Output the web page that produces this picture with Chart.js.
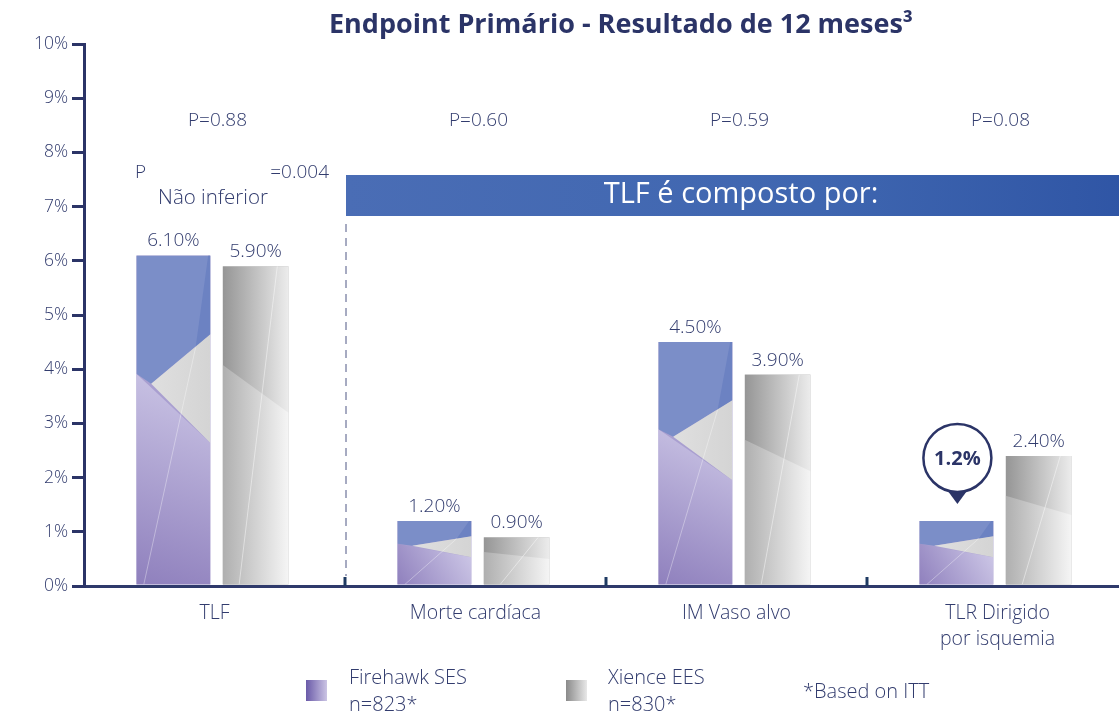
<!DOCTYPE html>
<html>
<head>
<meta charset="utf-8">
<script src="https://cdn.jsdelivr.net/npm/chart.js@4.4.1/dist/chart.umd.min.js"></script>
<style>
  html, body { margin: 0; padding: 0; background: #fff; overflow: hidden; }
  #wrap { position: relative; width: 1130px; height: 717px; }
</style>
</head>
<body>
<div id="wrap"><canvas id="chartCanvas"></canvas></div>
<script>
// --- data ---
const categories = ["TLF", "Morte cardíaca", "IM Vaso alvo", ["TLR Dirigido", "por isquemia"]];
const firehawk = [6.1, 1.2, 4.5, 1.2];
const xience = [5.9, 0.9, 3.9, 2.4];
const pValues = ["P=0.88", "P=0.60", "P=0.59", "P=0.08"];
const yMin = 0, yMax = 10, yStep = 1;
const calloutIndex = 3; // Firehawk TLR gets the bubble instead of a plain label

const NAVY = "#2b3467";
const TEXT = "#323c6e";
const FONT = "'Open Sans', 'Noto Sans', sans-serif";
const LIGHT = `300`;

// --- small drawing helpers ---
function poly(ctx, l, t, w, h, pts, fill) {
  ctx.beginPath();
  pts.forEach(([fx, fy], i) => {
    const px = l + fx * w, py = t + fy * h;
    i ? ctx.lineTo(px, py) : ctx.moveTo(px, py);
  });
  ctx.closePath();
  ctx.fillStyle = fill;
  ctx.fill();
}

function seam(ctx, l, t, w, h, a, b, alpha) {
  ctx.beginPath();
  ctx.moveTo(l + a[0] * w, t + a[1] * h);
  ctx.lineTo(l + b[0] * w, t + b[1] * h);
  ctx.strokeStyle = `rgba(255,255,255,${alpha})`;
  ctx.lineWidth = 1;
  ctx.stroke();
}

function facetFirehawk(ctx, l, t, w, h) {
  const lilac = ctx.createLinearGradient(l, t + h, l + w, t + 0.3 * h);
  lilac.addColorStop(0, "#8f80bd");
  lilac.addColorStop(1, "#d2cdea");
  poly(ctx, l, t, w, h, [[0, 0.36], [1, 0.57], [1, 1], [0, 1]], lilac);
  poly(ctx, l, t, w, h, [[0, 0], [1, 0], [1, 0.24], [0.2, 0.39], [0, 0.36]], "#7b8ec8");
  poly(ctx, l, t, w, h, [[0.97, 0], [1, 0], [1, 0.24], [0.8, 0.28]], "#6c82c2");
  const grey = ctx.createLinearGradient(l, t, l + w, t);
  grey.addColorStop(0, "#e2e2e2");
  grey.addColorStop(1, "#d4d4d4");
  poly(ctx, l, t, w, h, [[0.2, 0.39], [1, 0.24], [1, 0.57]], grey);
  seam(ctx, l, t, w, h, [0.1, 1], [0.8, 0.28], 0.35);
}

function facetXience(ctx, l, t, w, h) {
  const top = ctx.createLinearGradient(l, t, l + w, t);
  top.addColorStop(0, "#959595");
  top.addColorStop(1, "#ececec");
  poly(ctx, l, t, w, h, [[0, 0], [1, 0], [1, 1], [0, 1]], top);
  const low = ctx.createLinearGradient(l, t, l + w, t);
  low.addColorStop(0, "#afafaf");
  low.addColorStop(1, "#f5f5f5");
  poly(ctx, l, t, w, h, [[0, 0.31], [1, 0.46], [1, 1], [0, 1]], low);
  seam(ctx, l, t, w, h, [0.25, 1], [0.83, 0], 0.45);
}

// paints the faceted look inside each bar the library laid out
const facetPlugin = {
  id: "facets",
  afterDatasetsDraw(chart) {
    const ctx = chart.ctx;
    chart.data.datasets.forEach((ds, di) => {
      chart.getDatasetMeta(di).data.forEach(bar => {
        const l = bar.x - bar.width / 2, t = bar.y, w = bar.width, h = bar.base - bar.y;
        ctx.save();
        ctx.beginPath();
        ctx.rect(l, t, w, h);
        ctx.clip();
        (di === 0 ? facetFirehawk : facetXience)(ctx, l, t, w, h);
        ctx.restore();
      });
    });
  }
};

const annotationPlugin = {
  id: "annotations",
  afterDraw(chart) {
    const ctx = chart.ctx;
    const x = chart.scales.x, area = chart.chartArea;
    const step = x.getPixelForValue(1) - x.getPixelForValue(0);
    ctx.save();

    // title
    ctx.fillStyle = NAVY;
    ctx.font = `bold 27px ${FONT}`;
    ctx.textAlign = "center";
    ctx.textBaseline = "middle";
    ctx.fillText("Endpoint Primário - Resultado de 12 meses³", 621, 25);

    // short upward ticks between categories
    ctx.strokeStyle = "#1f3a62";
    ctx.lineWidth = 3;
    for (let i = 0; i < categories.length - 1; i++) {
      const bx = x.getPixelForValue(i) + step / 2;
      ctx.beginPath();
      ctx.moveTo(bx, area.bottom);
      ctx.lineTo(bx, area.bottom - 9);
      ctx.stroke();
    }

    // dashed divider after TLF
    const divX = x.getPixelForValue(0) + step / 2 + 1;
    ctx.setLineDash([8, 6]);
    ctx.lineWidth = 1;
    ctx.strokeStyle = "#4f5784";
    ctx.beginPath();
    ctx.moveTo(divX, 224);
    ctx.lineTo(divX, area.bottom - 10);
    ctx.stroke();
    ctx.setLineDash([]);

    // banner
    const g = ctx.createLinearGradient(divX, 0, chart.width, 0);
    g.addColorStop(0, "#4a6db5");
    g.addColorStop(0.6, "#3f66b0");
    g.addColorStop(1, "#2f55a5");
    ctx.fillStyle = g;
    ctx.fillRect(divX, 175, chart.width - divX, 41);
    ctx.fillStyle = "#ffffff";
    ctx.font = `29px ${FONT}`;
    ctx.fillText("TLF é composto por:", 741, 195);

    // p values
    ctx.fillStyle = TEXT;
    ctx.font = `${LIGHT} 19px ${FONT}`;
    pValues.forEach((p, i) => ctx.fillText(p, x.getPixelForValue(i) + 3, 121));

    // non-inferiority p on TLF
    ctx.textAlign = "left";
    ctx.fillText("P", 135, 173);
    ctx.textAlign = "right";
    ctx.fillText("=0.004", 329, 173);
    ctx.textAlign = "center";
    ctx.font = `${LIGHT} 20.5px ${FONT}`;
    ctx.fillText("Não inferior", 213, 198);

    // value labels
    ctx.font = `${LIGHT} 19px ${FONT}`;
    ctx.textBaseline = "bottom";
    chart.data.datasets.forEach((ds, di) => {
      chart.getDatasetMeta(di).data.forEach((bar, i) => {
        if (di === 0 && i === calloutIndex) return;
        ctx.fillText(ds.data[i].toFixed(2) + "%", bar.x, bar.y - 5);
      });
    });

    // callout bubble
    const cb = chart.getDatasetMeta(0).data[calloutIndex];
    const cx = cb.x + 1, cy = cb.y - 63, r = 34;
    ctx.fillStyle = NAVY;
    ctx.beginPath();
    ctx.moveTo(cx - 11, cy + r - 3);
    ctx.lineTo(cx + 11, cy + r - 3);
    ctx.lineTo(cx, cy + r + 12);
    ctx.closePath();
    ctx.fill();
    ctx.beginPath();
    ctx.arc(cx, cy, r, 0, Math.PI * 2);
    ctx.fillStyle = "#fff";
    ctx.fill();
    ctx.lineWidth = 2.5;
    ctx.strokeStyle = NAVY;
    ctx.stroke();
    ctx.fillStyle = NAVY;
    ctx.font = `bold 20px ${FONT}`;
    ctx.textBaseline = "middle";
    ctx.fillText(firehawk[calloutIndex].toFixed(1) + "%", cx, cy + 1);

    // legend
    const lg1 = ctx.createLinearGradient(306, 0, 327, 0);
    lg1.addColorStop(0, "#6a5aa8");
    lg1.addColorStop(1, "#cbc4e4");
    ctx.fillStyle = lg1;
    ctx.fillRect(306, 680, 21, 21);
    const lg2 = ctx.createLinearGradient(566, 0, 587, 0);
    lg2.addColorStop(0, "#8a8a8a");
    lg2.addColorStop(1, "#e8e8e8");
    ctx.fillStyle = lg2;
    ctx.fillRect(566, 680, 21, 21);
    ctx.fillStyle = TEXT;
    ctx.font = `${LIGHT} 20px ${FONT}`;
    ctx.textAlign = "left";
    ctx.fillText("Firehawk SES", 349, 678);
    ctx.fillText("n=823*", 349, 705);
    ctx.fillText("Xience EES", 608, 678);
    ctx.fillText("n=830*", 608, 705);
    ctx.fillText("*Based on ITT", 803, 692);

    ctx.restore();
  }
};

const canvas = document.getElementById("chartCanvas");

new Chart(canvas, {
  type: "bar",
  data: {
    labels: categories,
    datasets: [
      { label: "Firehawk SES", data: firehawk, backgroundColor: "#a99fd0", barPercentage: 0.9, categoryPercentage: 0.63 },
      { label: "Xience EES", data: xience, backgroundColor: "#c4c4c4", barPercentage: 0.8, categoryPercentage: 0.63 }
    ]
  },
  options: {
    responsive: true,
    maintainAspectRatio: false,
    animation: false,
    layout: { padding: { top: 44, right: 2, left: 0, bottom: 0 } },
    plugins: {
      legend: { display: false },
      tooltip: { enabled: false },
      title: { display: false }
    },
    scales: {
      x: {
        afterFit: s => { s.height = 131; },
        grid: { display: false },
        border: { color: "#2f3a6b", width: 3 },
        ticks: { color: TEXT, font: { family: FONT, size: 19.5, weight: LIGHT, lineHeight: 1.3 }, padding: 7 }
      },
      y: {
        min: yMin,
        max: yMax,
        afterFit: s => { s.width = 84; },
        border: { color: NAVY, width: 3 },
        grid: { drawOnChartArea: false, tickLength: 12, lineWidth: 3, color: NAVY },
        ticks: {
          stepSize: yStep,
          padding: 4,
          color: TEXT,
          font: { family: FONT, size: 17.5, weight: LIGHT },
          callback: v => v + "%"
        }
      }
    }
  },
  plugins: [facetPlugin, annotationPlugin]
});
</script>
</body>
</html>
